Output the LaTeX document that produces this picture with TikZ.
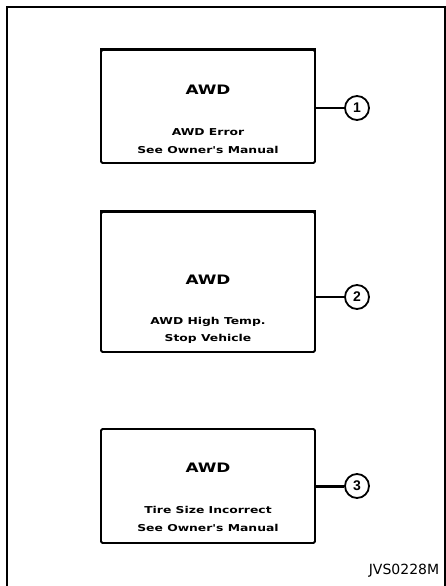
\documentclass[tikz,border=0pt]{standalone}
\usepackage{fontspec}
\setmainfont{Liberation Sans}
\newfontfamily\labelfont{DejaVu Sans}
\newfontfamily\panelfont[FakeStretch=1.3]{DejaVu Sans}
\usetikzlibrary{calc}

\begin{document}
\begin{tikzpicture}[x=1pt, y=-1pt,
            % ----- Styles -----
                panel/.style={
                    draw=black, line width=1.8pt, rounded corners=1.5pt,
                    minimum width=214pt, inner sep=0pt
                },
                ttl/.style={font=\panelfont\bfseries\fontsize{13}{15}\selectfont},
                msg/.style={font=\panelfont\bfseries\fontsize{9.5}{17.5}\selectfont, align=center},
                num/.style={circle, draw=black, line width=1.8pt, minimum size=24pt,
                    inner sep=0pt, font=\bfseries\fontsize{14}{14}\selectfont},
                lead/.style={line width=1.3pt}
            ]

% ===================== Rahmen ==================================
                \useasboundingbox (0,0) rectangle (446,586);
                \draw[line width=1.2pt] (7,586) -- (7,7) -- (445,7) -- (445,586);

% ===================== Anzeige 1 ===============================
                \node[panel, minimum height=113pt] (p1) at (208, 106.5) {};
                \draw[line width=3pt] (p1.north west) -- (p1.north east);
                \node[ttl] (t1) at (208, 90) {AWD};
                \node[msg] (m1) at (208, 141) {AWD Error\\See Owner's Manual};
                \node[num] (n1) at (357, 108) {1};
                \draw[lead] (n1.west) -- (n1.west -| p1.east);

% ===================== Anzeige 2 ===============================
                \node[panel, minimum height=140pt] (p2) at (208, 282) {};
                \draw[line width=3pt] (p2.north west) -- (p2.north east);
                \node[ttl] (t2) at (208, 280) {AWD};
                \node[msg] (m2) at (208, 330.5) {AWD High Temp.\\Stop Vehicle};
                \node[num] (n2) at (357, 297) {2};
                \draw[lead] (n2.west) -- (n2.west -| p2.east);

% ===================== Anzeige 3 ===============================
                \node[panel, minimum height=114pt] (p3) at (208, 486) {};
                \node[ttl] (t3) at (208, 468) {AWD};
                \node[msg] (m3) at (208, 519) {Tire Size Incorrect\\See Owner's Manual};
                \node[num] (n3) at (357, 486) {3};
                \draw[lead, line width=3pt] (n3.west) -- (n3.west -| p3.east);

% ===================== Kennung =================================
                \node[font=\labelfont\fontsize{14}{16}\selectfont] (id) at (404, 571) {JVS0228M};

            \end{tikzpicture}
\end{document}
